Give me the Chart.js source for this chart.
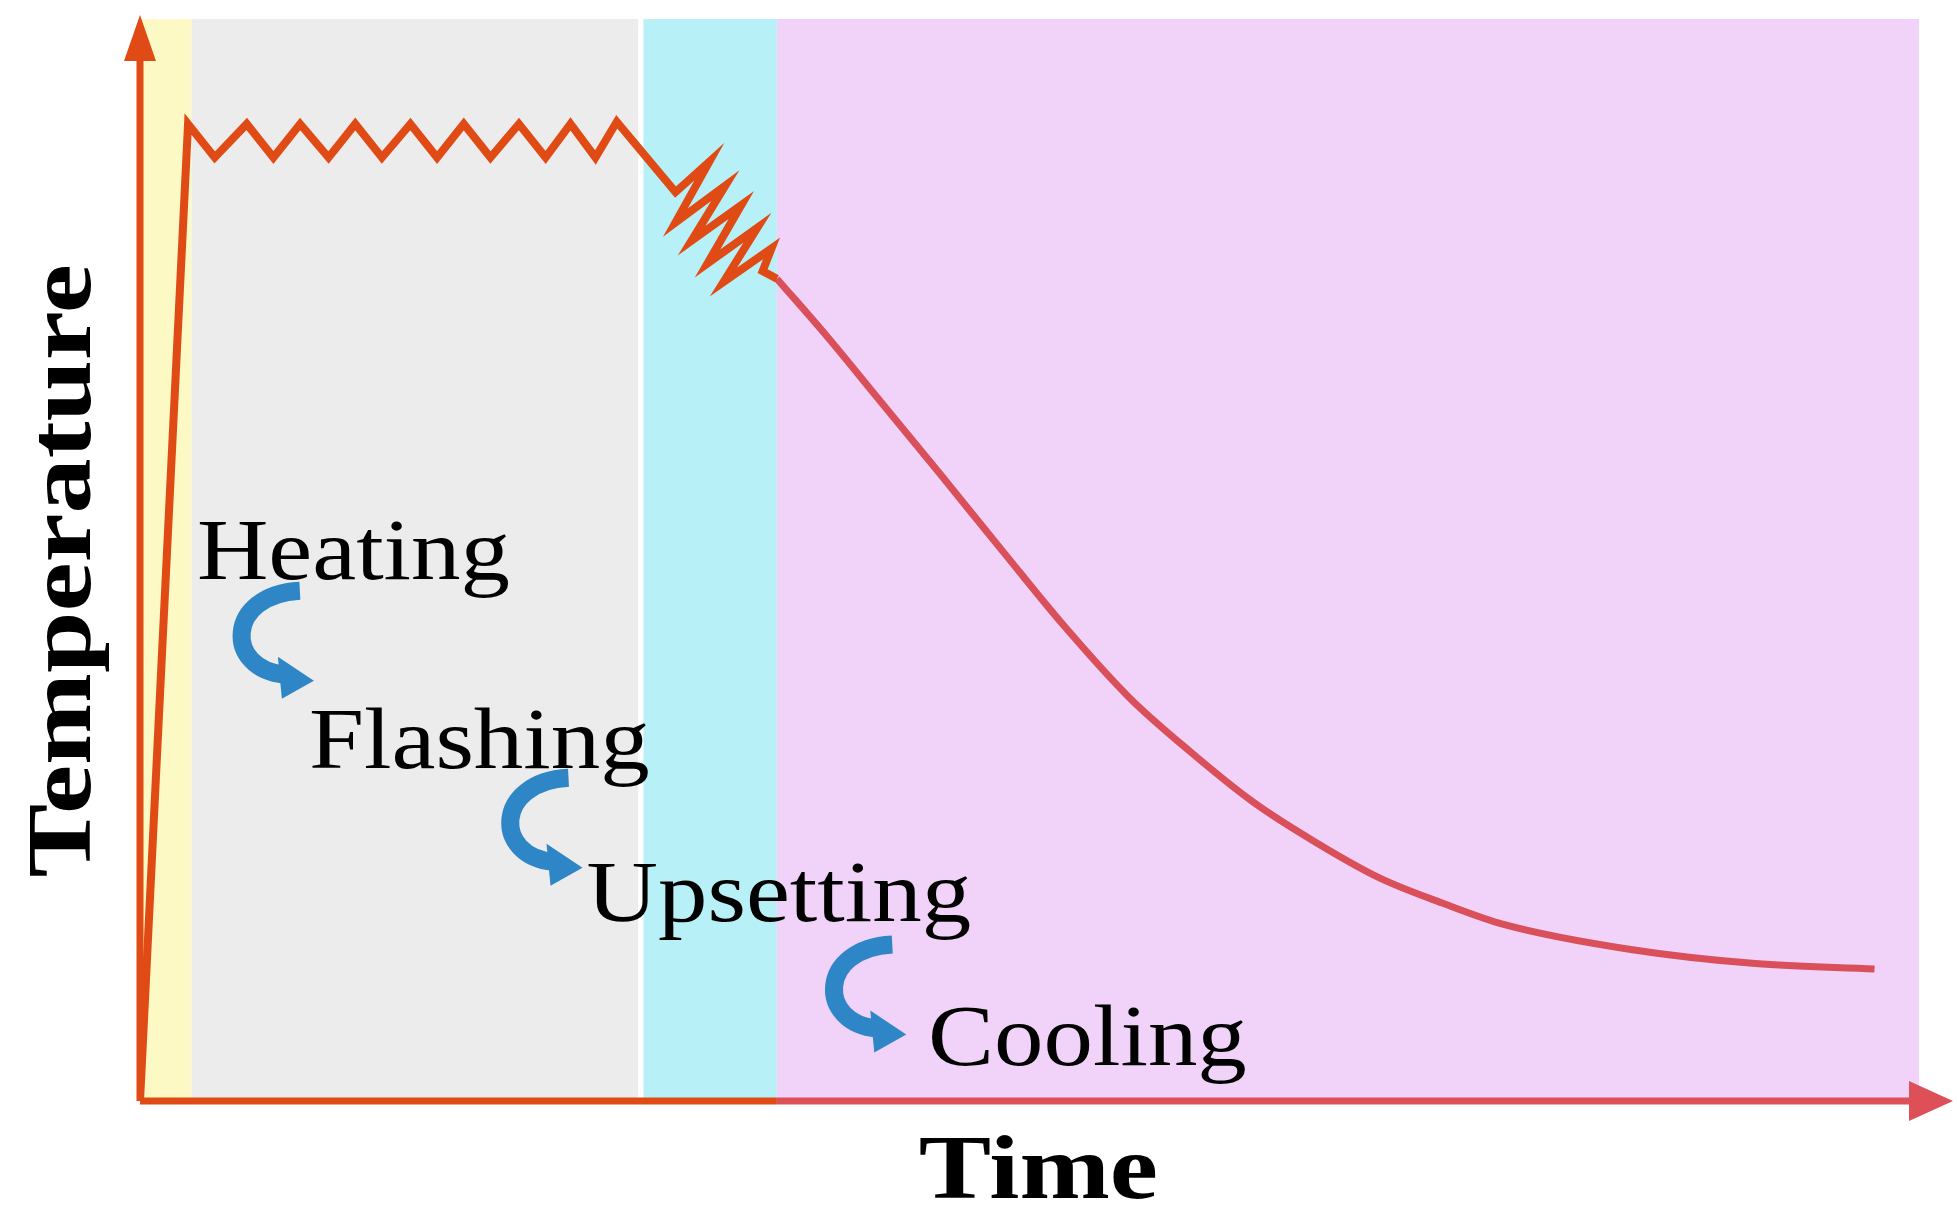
<!DOCTYPE html>
<html><head><meta charset="utf-8">
<script src="https://cdn.jsdelivr.net/npm/chart.js@4"></script>
<style>html,body{margin:0;padding:0;background:#fff}#w{width:1957px;height:1210px}</style>
</head><body><div id="w"><canvas id="c"></canvas></div>
<script>
// Phase bands (x in arbitrary time units 0-100)
const bandStarts = [0, 2.9, 28.3, 35.8];
const bandEnds   = [2.9, 28.0, 35.8, 100];
const bandColors = ['#fdf9c4', '#ececec', '#b8f0f8', '#f1d3fa'];
// Heating + flashing + upsetting path
const hotX = [0, 2.7, 4.2, 6.0, 7.5, 9.0, 10.6, 12.1, 13.6, 15.2, 16.7, 18.2, 19.7, 21.3, 22.8, 24.2, 25.6, 26.8, 30.1, 32.0, 30.1, 32.9, 31.0, 33.8, 31.9, 34.7, 32.8, 35.5, 35.0, 35.8];
const hotY = [0, 90.3, 87.2, 90.3, 87.2, 90.3, 87.2, 90.3, 87.2, 90.3, 87.2, 90.3, 87.2, 90.3, 87.2, 90.3, 87.2, 90.5, 84.0, 86.8, 81.2, 84.6, 79.5, 82.8, 77.4, 80.7, 75.7, 78.8, 76.7, 76.0];
// Cooling path
const coolX = [35.8, 38.6, 41.5, 45.0, 48.5, 52.0, 55.6, 59.1, 62.6, 66.1, 69.7, 73.2, 76.7, 83.8, 90.8, 97.5];
const coolY = [76.0, 70.7, 64.9, 57.9, 50.8, 43.8, 37.3, 32.2, 27.6, 23.9, 20.6, 18.3, 16.3, 14.0, 12.7, 12.2];
// Stage labels with anchor positions
const stageNames = ['Heating', 'Flashing', 'Upsetting', 'Cooling'];
const stageX = [3.2, 9.5, 25.1, 44.3];
const stageY = [48.2, 30.8, 16.6, 3.3];
const arrowX = [7.3, 22.4, 40.6];
const arrowY = [43.1, 25.8, 10.4];

const pts = (xs, ys) => xs.map((x, i) => ({x, y: ys[i]}));

function stretchText(ctx, s, px, py, sx) {
  ctx.save(); ctx.translate(px, py); ctx.scale(sx, 1); ctx.fillText(s, 0, 0); ctx.restore();
}

const deco = {
  id: 'deco',
  beforeDatasetsDraw(ch) {
    const {ctx, chartArea: a, scales: {x}} = ch;
    ctx.save();
    for (let i = 0; i < bandStarts.length; i++) {
      ctx.fillStyle = bandColors[i];
      const x0 = x.getPixelForValue(bandStarts[i]), x1 = x.getPixelForValue(bandEnds[i]);
      ctx.fillRect(x0, a.top, x1 - x0, a.bottom - a.top);
    }
    ctx.restore();
  },
  afterDatasetsDraw(ch) {
    const {ctx, chartArea: a, scales: {x, y}} = ch;
    ctx.save();
    ctx.lineWidth = 7; ctx.lineCap = 'butt';
    ctx.strokeStyle = '#e04a14';
    ctx.beginPath(); ctx.moveTo(a.left, a.bottom); ctx.lineTo(a.left, a.top + 30); ctx.stroke();
    ctx.fillStyle = '#e04a14';
    ctx.beginPath(); ctx.moveTo(a.left, a.top - 4); ctx.lineTo(a.left - 16, a.top + 42); ctx.lineTo(a.left + 16, a.top + 42); ctx.fill();
    const xm = x.getPixelForValue(35.8);
    ctx.beginPath(); ctx.moveTo(a.left, a.bottom); ctx.lineTo(xm, a.bottom); ctx.stroke();
    ctx.strokeStyle = '#dd5058'; ctx.fillStyle = '#dd5058';
    ctx.beginPath(); ctx.moveTo(xm, a.bottom); ctx.lineTo(a.right + 5, a.bottom); ctx.stroke();
    ctx.beginPath(); ctx.moveTo(a.right + 34, a.bottom); ctx.lineTo(a.right - 10, a.bottom - 20); ctx.lineTo(a.right - 10, a.bottom + 20); ctx.fill();
    ctx.fillStyle = '#000';
    ctx.font = 'bold 92px "Liberation Serif"';
    ctx.textAlign = 'center'; ctx.textBaseline = 'alphabetic';
    stretchText(ctx, 'Time', x.getPixelForValue(50.5), 1198, 1.18);
    ctx.save(); ctx.translate(90, y.getPixelForValue(49)); ctx.rotate(-Math.PI / 2); ctx.scale(1.2, 1);
    ctx.fillText('Temperature', 0, 0); ctx.restore();
    ctx.font = '86px "Liberation Serif"'; ctx.textAlign = 'left';
    stageNames.forEach((s, i) => stretchText(ctx, s, x.getPixelForValue(stageX[i]), y.getPixelForValue(stageY[i]), 1.15));
    ctx.strokeStyle = '#2f86c6'; ctx.fillStyle = '#2f86c6'; ctx.lineWidth = 18;
    arrowX.forEach((ax, i) => {
      const cx = x.getPixelForValue(ax), cy = y.getPixelForValue(arrowY[i]);
      ctx.beginPath(); ctx.moveTo(cx + 30, cy - 44);
      ctx.bezierCurveTo(cx - 45, cy - 40, cx - 45, cy + 35, cx + 15, cy + 40);
      ctx.stroke();
      ctx.beginPath(); ctx.moveTo(cx + 44, cy + 46); ctx.lineTo(cx + 8, cy + 22); ctx.lineTo(cx + 12, cy + 64); ctx.fill();
    });
    ctx.restore();
  }
};

new Chart(document.getElementById('c'), {
  type: 'scatter',
  data: { datasets: [
    { data: pts(hotX, hotY), showLine: true, borderColor: '#e04a14', borderWidth: 8, pointRadius: 0, tension: 0, borderJoinStyle: 'miter' },
    { data: pts(coolX, coolY), showLine: true, borderColor: '#d9505a', borderWidth: 7, pointRadius: 0, tension: 0.4, cubicInterpolationMode: 'monotone' }
  ]},
  options: {
    responsive: true, maintainAspectRatio: false, animation: false,
    layout: { padding: { left: 140, top: 19, right: 38, bottom: 109 } },
    plugins: { legend: { display: false }, tooltip: { enabled: false } },
    scales: {
      x: { type: 'linear', min: 0, max: 100, display: false },
      y: { type: 'linear', min: 0, max: 100, display: false }
    }
  },
  plugins: [deco]
});
</script></body></html>
